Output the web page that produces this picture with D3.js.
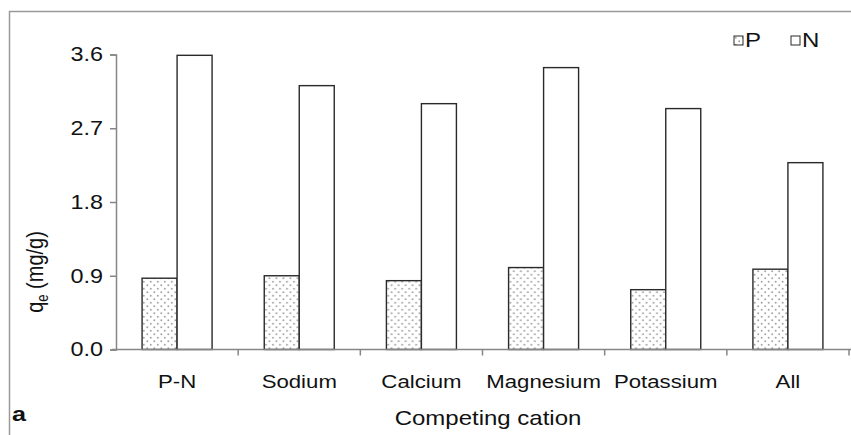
<!DOCTYPE html>
<html>
<head>
<meta charset="utf-8">
<script src="https://cdn.jsdelivr.net/npm/d3@7"></script>
<style>
  html, body { margin: 0; padding: 0; background: #fff; }
  svg { display: block; font-family: "Liberation Sans", Arial, sans-serif; }
</style>
</head>
<body>
<svg id="chart" width="851" height="435"></svg>
<script>
// Adsorption capacity of P and N in the presence of competing cations
const categories = ["P-N", "Sodium", "Calcium", "Magnesium", "Potassium", "All"];
const seriesNames = ["P", "N"];
const valuesP = [0.87, 0.90, 0.84, 1.00, 0.73, 0.98];
const valuesN = [3.59, 3.22, 3.00, 3.44, 2.94, 2.28];
const yTicks = [0, 0.9, 1.8, 2.7, 3.6];

const svg = d3.select("#chart");
const W = 851, H = 435;
const margin = { left: 116, right: 2, top: 54.5, bottom: 85.5 };
const SX = 1.2; // horizontal text stretch

// text placed at (x,y), widened horizontally
function label(g, x0, y0, str, opts = {}) {
  return g.append("text")
    .attr("transform", `translate(${x0},${y0}) scale(${opts.sx || SX},1)`)
    .attr("text-anchor", opts.anchor || "start")
    .attr("font-size", opts.size || 19)
    .attr("font-weight", opts.weight || "normal")
    .attr("fill", "#111")
    .text(str);
}

// Outer frame
svg.append("rect")
  .attr("x", 9.5).attr("y", 11.5)
  .attr("width", W + 10).attr("height", H + 10)
  .attr("fill", "none").attr("stroke", "#9a9a9a").attr("stroke-width", 1.5);

// Dotted fill for the P series
const defs = svg.append("defs");
const pat = defs.append("pattern")
  .attr("id", "dots").attr("patternUnits", "userSpaceOnUse")
  .attr("width", 7).attr("height", 7);
pat.append("rect").attr("width", 7).attr("height", 7).attr("fill", "#fff");
pat.append("circle").attr("cx", 1.75).attr("cy", 1.75).attr("r", 0.95).attr("fill", "#a0a0a0");
pat.append("circle").attr("cx", 5.25).attr("cy", 5.25).attr("r", 0.95).attr("fill", "#a0a0a0");

const x = d3.scaleBand()
  .domain(categories)
  .range([margin.left, W - margin.right])
  .paddingInner(0.427)
  .paddingOuter(0.2135);
const xs = d3.scaleBand().domain(seriesNames).range([0, x.bandwidth()]);
const y = d3.scaleLinear().domain([0, 3.6]).range([H - margin.bottom, margin.top]);

const rows = categories.map((c, i) => ({ cat: c, P: valuesP[i], N: valuesN[i] }));
const fills = { P: "url(#dots)", N: "#fff" };

// Bars
const groups = svg.append("g").selectAll("g").data(rows).join("g")
  .attr("transform", d => `translate(${x(d.cat)},0)`);
groups.selectAll("rect")
  .data(d => seriesNames.map(s => ({ s, v: d[s] })))
  .join("rect")
  .attr("x", d => xs(d.s))
  .attr("y", d => y(d.v))
  .attr("width", xs.bandwidth())
  .attr("height", d => y(0) - y(d.v))
  .attr("fill", d => fills[d.s])
  .attr("stroke", "#2a2a2a")
  .attr("stroke-width", 1.4);

// Y axis
const yAxis = d3.axisLeft(y).tickValues(yTicks).tickFormat(d3.format(".1f")).tickSize(6);
const gy = svg.append("g").attr("transform", `translate(${margin.left},0)`).call(yAxis);
gy.select(".domain").attr("stroke", "#868686").attr("stroke-width", 1.5);
gy.selectAll(".tick line").attr("stroke", "#868686").attr("stroke-width", 1.5);
gy.selectAll(".tick text")
  .attr("x", 0)
  .attr("transform", `translate(-13,0) scale(${SX},1)`)
  .attr("font-size", 19.5).attr("fill", "#111")
  .attr("font-family", "'Liberation Sans', Arial, sans-serif");

// X axis with category boundary ticks
const xAxisY = y(0);
svg.append("line")
  .attr("x1", margin.left - 4).attr("x2", W)
  .attr("y1", xAxisY).attr("y2", xAxisY)
  .attr("stroke", "#868686").attr("stroke-width", 1.5);
const bounds = categories.map(c => x(c) - x.step() * x.paddingInner() / 2 + x.step());
svg.append("g").selectAll("line").data(bounds).join("line")
  .attr("x1", d => d).attr("x2", d => d)
  .attr("y1", xAxisY).attr("y2", xAxisY + 6)
  .attr("stroke", "#868686").attr("stroke-width", 1.5);
const gx = svg.append("g");
categories.forEach(c => label(gx, x(c) + x.bandwidth() / 2, 388, c, { anchor: "middle", size: 18.5 }));

// Axis titles
label(svg, 488, 425, "Competing cation", { anchor: "middle", size: 20 });
const yt = svg.append("text")
  .attr("transform", `translate(43,272) scale(${SX},1) rotate(-90)`)
  .attr("text-anchor", "middle").attr("font-size", 20).attr("fill", "#111");
yt.append("tspan").text("q");
yt.append("tspan").attr("font-size", 13).attr("dy", 4).text("e");
yt.append("tspan").attr("dy", -4).text(" (mg/g)");

// Panel letter
label(svg, 12, 421, "a", { size: 21, weight: "bold" });

// Legend
const legend = svg.append("g").selectAll("g").data(seriesNames).join("g")
  .attr("transform", (d, i) => `translate(${734 + i * 57},36)`);
legend.append("rect")
  .attr("width", 9).attr("height", 9)
  .attr("fill", d => fills[d]).attr("stroke", "#2a2a2a").attr("stroke-width", 1);
legend.each(function (d) {
  label(d3.select(this), 11, 10.5, d, { size: 20 });
});
</script>
</body>
</html>
